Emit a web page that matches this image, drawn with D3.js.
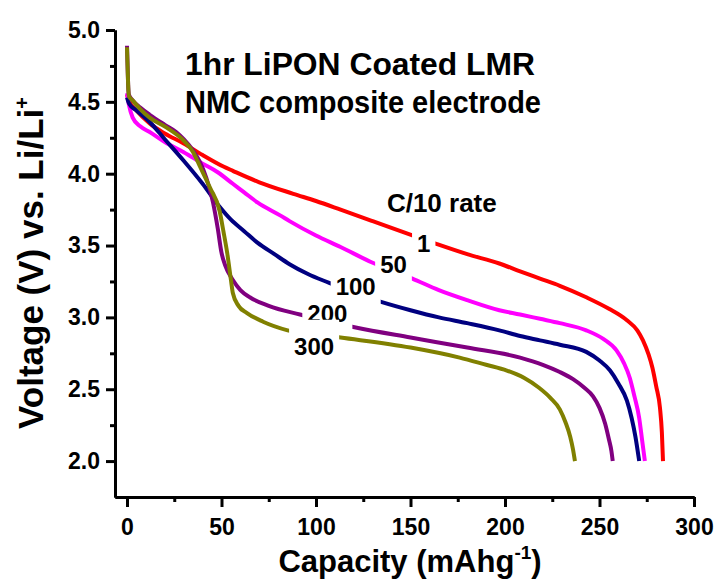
<!DOCTYPE html>
<html>
<head>
<meta charset="utf-8">
<script src="https://cdn.jsdelivr.net/npm/d3@7"></script>
<style>
  body { margin: 0; background: #fff; }
  svg { display: block; }
  text { font-family: "Liberation Sans", Arial, Helvetica, sans-serif; font-weight: bold; fill: #000; }
</style>
</head>
<body>
<svg id="chart" width="718" height="580"></svg>
<script>
// Discharge curves: capacity (mAh/g) vs. voltage (V) after N cycles
const cycleLabels = ["1", "50", "100", "200", "300"];

const capCycle1 = [0, 1, 5, 12, 20, 30, 40, 51, 56, 70, 88, 100, 113, 130, 151, 164, 180, 197, 208, 218.5, 229, 243, 255, 264.5, 270, 273, 276, 278, 280, 282, 283, 283.6];
const voltCycle1 = [4.55, 4.51, 4.44, 4.35, 4.28, 4.21, 4.13, 4.05, 4.02, 3.94, 3.86, 3.81, 3.75, 3.67, 3.57, 3.51, 3.44, 3.375, 3.32, 3.27, 3.22, 3.14, 3.06, 2.98, 2.91, 2.84, 2.74, 2.65, 2.52, 2.37, 2.2, 2.0];

const capCycle50 = [0, 1, 3, 7, 12, 20, 30, 40, 48, 56, 62, 69, 81, 86, 100, 113, 130, 151, 165, 180, 197, 208, 218.5, 229, 243, 252, 259, 263, 266, 268.5, 271, 272.5, 274];
const voltCycle50 = [4.56, 4.48, 4.39, 4.33, 4.29, 4.22, 4.15, 4.07, 4.01, 3.93, 3.87, 3.80, 3.71, 3.67, 3.57, 3.49, 3.38, 3.27, 3.19, 3.12, 3.05, 3.02, 2.99, 2.96, 2.91, 2.85, 2.77, 2.68, 2.58, 2.45, 2.30, 2.15, 2.0];

const capCycle100 = [0, 1, 5, 12, 20, 30, 40, 49, 55, 62, 69, 78, 86, 96, 107, 120, 134, 150, 165, 180, 197, 208, 218.5, 229, 243, 250, 255.6, 260, 264.5, 267, 269, 271];
const voltCycle100 = [4.53, 4.49, 4.44, 4.36, 4.24, 4.09, 3.93, 3.77, 3.68, 3.60, 3.52, 3.44, 3.37, 3.30, 3.24, 3.17, 3.11, 3.05, 3.00, 2.96, 2.91, 2.87, 2.84, 2.81, 2.76, 2.70, 2.63, 2.54, 2.42, 2.30, 2.17, 2.0];

const capCycle200 = [0, 0.3, 0.6, 1, 3, 7, 12, 20, 26, 30, 35, 38.6, 42, 45.5, 48, 50, 52, 56, 60, 65, 75, 91.5, 107, 121, 150, 180, 208, 220, 229, 236, 242, 246.6, 250, 253, 255, 256.3, 257];
const voltCycle200 = [4.89, 4.75, 4.62, 4.55, 4.51, 4.46, 4.41, 4.34, 4.29, 4.24, 4.16, 4.08, 3.97, 3.80, 3.62, 3.45, 3.36, 3.26, 3.19, 3.14, 3.08, 3.02, 2.97, 2.93, 2.86, 2.79, 2.72, 2.67, 2.62, 2.57, 2.51, 2.45, 2.37, 2.26, 2.15, 2.07, 2.0];

const capCycle300 = [0, 0.3, 0.6, 1, 3, 7, 12, 21, 30, 35, 38.6, 44, 49, 51, 53, 55, 56, 59, 63.5, 72, 85, 113, 150, 176, 190, 201, 210, 218, 224, 229, 232, 234.5, 236, 237];
const voltCycle300 = [4.88, 4.75, 4.62, 4.54, 4.51, 4.45, 4.39, 4.32, 4.23, 4.15, 4.05, 3.90, 3.74, 3.60, 3.45, 3.26, 3.17, 3.08, 3.03, 2.97, 2.91, 2.86, 2.79, 2.72, 2.67, 2.63, 2.58, 2.51, 2.44, 2.36, 2.27, 2.17, 2.08, 2.0];

const xTickValues = [0, 50, 100, 150, 200, 250, 300];
const xMinorValues = [25, 75, 125, 175, 225, 275];
const yTickValues = [2.0, 2.5, 3.0, 3.5, 4.0, 4.5, 5.0];
const yMinorValues = [2.25, 2.75, 3.25, 3.75, 4.25, 4.75];

const seriesColors = ["#ff0000", "#ff00ff", "#000080", "#800080", "#808000"];

const seriesData = [
  d3.zip(capCycle1, voltCycle1),
  d3.zip(capCycle50, voltCycle50),
  d3.zip(capCycle100, voltCycle100),
  d3.zip(capCycle200, voltCycle200),
  d3.zip(capCycle300, voltCycle300)
];

// Layout
const svg = d3.select("#chart");
const x = d3.scaleLinear().domain([-6.35, 300]).range([115, 694]);
const y = d3.scaleLinear().domain([1.75, 5.0]).range([497, 30]);

// Curves
const line = d3.line()
  .x(d => x(d[0]))
  .y(d => y(d[1]))
  .curve(d3.curveMonotoneX);

svg.append("g")
  .selectAll("path")
  .data(seriesData)
  .join("path")
  .attr("d", line)
  .attr("fill", "none")
  .attr("stroke", (d, i) => seriesColors[i])
  .attr("stroke-width", 4)
  .attr("stroke-linejoin", "round")
  .attr("stroke-linecap", "butt");

// Cycle-number labels on white boxes, placed in data coordinates
const labelSpots = [
  { cap: 157, volt: 3.455, padTop: 4 },
  { cap: 141, volt: 3.31,  padTop: 4 },
  { cap: 121, volt: 3.155, padTop: 4 },
  { cap: 106, volt: 2.97,  padTop: 4 },
  { cap: 99,  volt: 2.74,  padTop: 13 }
];

const labelG = svg.append("g");
cycleLabels.forEach((txt, i) => {
  const spot = labelSpots[i];
  const g = labelG.append("g");
  const rect = g.append("rect").attr("fill", "#fff");
  const t = g.append("text")
    .attr("x", x(spot.cap))
    .attr("y", y(spot.volt))
    .attr("text-anchor", "middle")
    .style("font-size", "24px")
    .text(txt);
  const bb = t.node().getBBox();
  rect.attr("x", bb.x - 5)
    .attr("y", bb.y - spot.padTop)
    .attr("width", bb.width + 10)
    .attr("height", bb.height + spot.padTop + 4);
});

svg.append("text")
  .attr("x", x(137.5))
  .attr("y", y(3.73))
  .style("font-size", "26px")
  .text("C/10 rate");

// Axes
const axisStyle = g => {
  g.selectAll(".domain").attr("stroke", "#000").attr("stroke-width", 3);
  g.selectAll(".tick line").attr("stroke", "#000").attr("stroke-width", 3);
  g.selectAll(".tick text")
    .style("font-family", "'Liberation Sans', Arial, sans-serif")
    .style("font-weight", "bold")
    .style("font-size", "23px")
    .attr("fill", "#000");
};

svg.append("g")
  .attr("transform", "translate(0,497)")
  .call(d3.axisBottom(x).tickValues(xMinorValues).tickSize(5).tickSizeOuter(0).tickFormat(""))
  .call(axisStyle);

svg.append("g")
  .attr("transform", "translate(0,497)")
  .call(d3.axisBottom(x).tickValues(xTickValues).tickSize(10).tickSizeOuter(0).tickPadding(12).tickFormat(d3.format("d")))
  .call(axisStyle);

svg.append("g")
  .attr("transform", "translate(115,0)")
  .call(d3.axisLeft(y).tickValues(yMinorValues).tickSize(5).tickSizeOuter(0).tickFormat(""))
  .call(axisStyle);

svg.append("g")
  .attr("transform", "translate(115,0)")
  .call(d3.axisLeft(y).tickValues(yTickValues).tickSize(9).tickSizeOuter(0).tickPadding(6).tickFormat(d3.format(".1f")))
  .call(axisStyle);

// Title block
const title = svg.append("text").attr("x", 185).style("font-size", "31px");
title.append("tspan").attr("x", 185).attr("y", 75)
  .attr("textLength", 350).attr("lengthAdjust", "spacingAndGlyphs")
  .text("1hr LiPON Coated LMR");
title.append("tspan").attr("x", 185).attr("y", 113)
  .attr("textLength", 356).attr("lengthAdjust", "spacingAndGlyphs")
  .text("NMC composite electrode");

// Axis titles
const xTitle = svg.append("text")
  .attr("x", 410)
  .attr("y", 572)
  .attr("text-anchor", "middle")
  .style("font-size", "31px");
xTitle.append("tspan").text("Capacity (mAhg");
xTitle.append("tspan").attr("dy", -13).style("font-size", "19px").text("-1");
xTitle.append("tspan").attr("dy", 13).text(")");

const yTitle = svg.append("text")
  .attr("transform", "translate(43,263) rotate(-90)")
  .attr("text-anchor", "middle")
  .style("font-size", "35px");
yTitle.append("tspan").text("Voltage (V) vs. Li/Li");
yTitle.append("tspan").attr("dy", -14).style("font-size", "20px").text("+");
</script>
</body>
</html>
